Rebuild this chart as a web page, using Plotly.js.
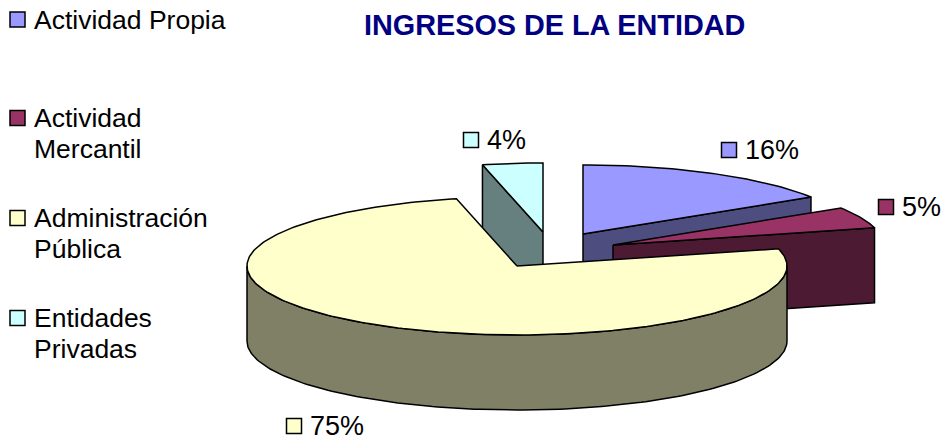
<!DOCTYPE html>
<html><head><meta charset="utf-8">
<script src="https://cdn.plot.ly/plotly-3.0.1.min.js"></script>
<style>html,body{margin:0;padding:0;background:#fff;overflow:hidden}#c{width:943px;height:441px}</style>
</head><body><div id="c"></div>
<script>
// Data
const categories = ['Actividad Propia','Actividad Mercantil','Administración Pública','Entidades Privadas'];
const values = [16, 5, 75.4, 3.6];
const percentLabels = ['16%','5%','75%','4%'];
const legendLines = [['Actividad Propia'],['Actividad','Mercantil'],['Administración','Pública'],['Entidades','Privadas']];
const topColors = ['#9999FF','#993366','#FFFFCC','#CCFFFF'];
const sideColors = ['#4D4D80','#4D1A33','#808066','#668080'];

// Layout of the exploded pie (pixel-scale axes)
const rx = 270, ry = 69, depth = 75;
const apexX = [583, 613, 517, 543];
const apexY = [234, 245, 266, 232];
const legendBoxY = [19.5, 118, 218, 318];
const legendLineGap = 31;
const labelBoxX = [729, 886, 294, 471];
const labelY = [150, 207, 426, 140];

const total = values.reduce((a,b)=>a+b,0);
let acc = 0;
const spans = values.map(v=>{const s=acc; acc+=v/total*2*Math.PI; return [s,acc];});
const rim = (i,t)=>[apexX[i]+rx*Math.sin(t), apexY[i]-ry*Math.cos(t)];

function arc(i,a,b,dy){
  const xs=[],ys=[];const n=Math.max(2,Math.ceil(Math.abs(b-a)/0.02));
  for(let k=0;k<=n;k++){const p=rim(i,a+(b-a)*k/n);xs.push(p[0]);ys.push(p[1]+dy);}
  return [xs,ys];
}
function poly(xs,ys,color,name){
  return {type:'scatter',mode:'lines',x:xs.concat(xs[0]),y:ys.concat(ys[0]),fill:'toself',fillcolor:color,
    line:{color:'#000',width:1.5},name:name,showlegend:false,hoverinfo:'name'};
}
function topFace(i){
  const [xs,ys]=arc(i,spans[i][0],spans[i][1],0);
  return poly([apexX[i]].concat(xs),[apexY[i]].concat(ys),topColors[i],categories[i]);
}
function radialFace(i,t){
  const p=rim(i,t);
  return poly([apexX[i],p[0],p[0],apexX[i]],[apexY[i],p[1],p[1]+depth,apexY[i]+depth],sideColors[i],categories[i]);
}
function rimFace(i,a,b){
  const [x1,y1]=arc(i,a,b,0),[x2,y2]=arc(i,b,a,depth);
  return poly(x1.concat(x2),y1.concat(y2),sideColors[i],categories[i]);
}
// Only the front half of the rim (from the right extreme to the left extreme) is visible
const frontStart = Math.max(spans[2][0], Math.PI/2), frontEnd = Math.min(spans[2][1], 3*Math.PI/2);
const traces=[
  radialFace(3,spans[3][0]), topFace(3),
  radialFace(0,spans[0][1]), topFace(0),
  radialFace(1,spans[1][1]), topFace(1),
  rimFace(2,frontStart,frontEnd), topFace(2)
];

const shapes=[],annotations=[];
function swatch(cx,cy,color){
  shapes.push({type:'rect',xref:'x',yref:'y',x0:cx-7.5,x1:cx+7.5,y0:cy-7.5,y1:cy+7.5,fillcolor:color,line:{color:'#000',width:1.5}});
}
function label(x,y,text,size){
  annotations.push({xref:'x',yref:'y',x:x,y:y,text:text,showarrow:false,xanchor:'left',yanchor:'middle',align:'left',
    font:{family:'Liberation Sans, Arial, sans-serif',size:size,color:'#000'}});
}
categories.forEach((c,i)=>{
  swatch(17.5,legendBoxY[i],topColors[i]);
  legendLines[i].forEach((t,k)=>label(32,legendBoxY[i]+k*legendLineGap,t,26.5));
  swatch(labelBoxX[i],labelY[i],topColors[i]);
  label(labelBoxX[i]+14,labelY[i],percentLabels[i],27);
});
annotations.push({xref:'x',yref:'y',x:554,y:25,text:'<b>INGRESOS DE LA ENTIDAD</b>',showarrow:false,xanchor:'center',yanchor:'middle',
  font:{family:'Liberation Sans, Arial, sans-serif',size:28.8,color:'#000080'}});

Plotly.newPlot('c',traces,{
  width:943,height:441,margin:{l:0,r:0,t:0,b:0},paper_bgcolor:'#fff',plot_bgcolor:'#fff',showlegend:false,
  xaxis:{range:[0,943],visible:false,fixedrange:true},
  yaxis:{range:[441,0],visible:false,fixedrange:true},
  shapes:shapes,annotations:annotations
},{displayModeBar:false,staticPlot:true});
</script></body></html>
